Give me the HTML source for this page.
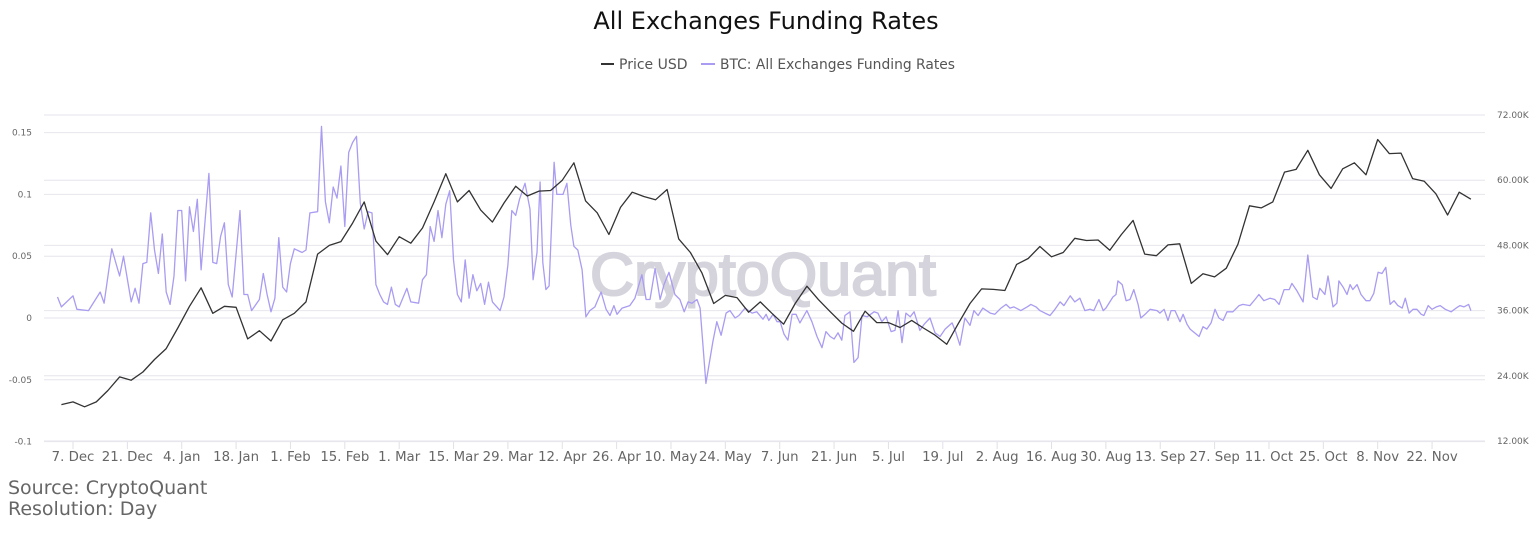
<!DOCTYPE html>
<html><head><meta charset="utf-8"><style>
html,body{margin:0;padding:0;background:#fff;}
svg{display:block;font-family:"DejaVu Sans","Liberation Sans",sans-serif;}
</style></head><body>
<svg id="chart" width="1536" height="533" viewBox="0 0 1536 533" xmlns="http://www.w3.org/2000/svg">
<text x="766" y="29" text-anchor="middle" font-size="24" fill="#111">All Exchanges Funding Rates</text>
<g>
<g><line x1="601" y1="64" x2="614" y2="64" stroke="#333" stroke-width="2"/><text x="619" y="69" font-size="14" fill="#555">Price USD</text></g>
<g><line x1="701" y1="64" x2="715" y2="64" stroke="#a99cf2" stroke-width="2"/><text x="720" y="69" font-size="14" fill="#555" textLength="235" lengthAdjust="spacingAndGlyphs">BTC: All Exchanges Funding Rates</text></g>
</g>
<g id="grid"></g>
<text x="590" y="295" font-family="Liberation Sans, sans-serif" font-size="60" fill="#d5d4dd" stroke="#d5d4dd" stroke-width="2" textLength="346" lengthAdjust="spacingAndGlyphs">CryptoQuant</text>
<g id="axes"></g>
<g id="series"></g>
<text x="8" y="494" font-size="19" fill="#666">Source: CryptoQuant</text>
<text x="8" y="515" font-size="19" fill="#666">Resolution: Day</text>
</svg>
<script>
// day offsets are days since 2020-12-07
const leftTicks = [0.15, 0.1, 0.05, 0, -0.05, -0.1];
const leftTickLabels = ["0.15", "0.1", "0.05", "0", "-0.05", "-0.1"];
const rightTicks = [72, 60, 48, 36, 24, 12];
const rightTickLabels = ["72.00K", "60.00K", "48.00K", "36.00K", "24.00K", "12.00K"];
const xTickDays = [0,14,28,42,56,70,84,98,112,126,140,154,168,182,196,210,224,238,252,266,280,294,308,322,336,350];
const xTickLabels = ["7. Dec","21. Dec","4. Jan","18. Jan","1. Feb","15. Feb","1. Mar","15. Mar","29. Mar","12. Apr","26. Apr","10. May","24. May","7. Jun","21. Jun","5. Jul","19. Jul","2. Aug","16. Aug","30. Aug","13. Sep","27. Sep","11. Oct","25. Oct","8. Nov","22. Nov"];
// price (K USD), one value every 3 days starting 2020-12-04 (day -3)
const priceStartDay = -3;
const priceStepDays = 3;
const priceValues = [18.7,19.2,18.3,19.2,21.3,23.8,23.2,24.7,27.0,29.0,32.8,36.8,40.2,35.5,36.8,36.6,30.8,32.3,30.4,34.3,35.5,37.6,46.4,48.0,48.7,52.1,56.0,48.8,46.3,49.6,48.4,51.2,56.0,61.2,56.0,58.1,54.5,52.3,55.8,58.9,57.1,58.0,58.1,60.0,63.2,56.2,54.0,50.0,55.0,57.8,57.0,56.4,58.3,49.2,46.7,42.9,37.3,38.8,38.4,35.7,37.6,35.5,33.5,37.3,40.5,38.0,35.8,33.7,32.2,35.9,33.8,33.8,32.9,34.2,32.8,31.5,29.8,33.6,37.3,40.0,39.9,39.7,44.5,45.6,47.8,45.9,46.7,49.3,48.9,49.0,47.1,50.0,52.6,46.4,46.1,48.1,48.3,41.0,42.8,42.2,43.8,48.2,55.3,54.9,56.0,61.5,62.0,65.5,61.0,58.5,62.1,63.2,61.0,67.5,64.9,65.0,60.3,59.8,57.5,53.6,57.8,56.5];
const fundingDays = [-4,-3,0,1,4,7,8,10,12,13,15,16,17,18,19,20,21,22,23,24,25,26,27,28,29,30,31,32,33,35,36,37,38,39,40,41,43,44,45,46,48,49,50,51,52,53,54,55,56,57,59,60,61,63,64,65,66,67,68,69,70,71,72,73,74,75,76,77,78,79,80,81,82,83,84,86,87,89,90,91,92,93,94,95,96,97,98,99,100,101,102,103,104,105,106,107,108,110,111,112,113,114,115,116.4,117.7,118.5,119.5,120.3,121.0,121.8,122.6,123.9,124.6,126.2,127.2,128.2,129.0,130.0,131.1,132.1,133.1,134.4,136.0,137.3,138.3,139.3,140.1,141.4,143.4,144.7,146.5,147.6,148.6,149.9,151.2,152.2,153.5,155.0,156.3,157.4,158.4,159.4,160.7,161.5,163.0,164.8,165.8,166.9,168.2,169.2,170.5,171.5,173.1,174.9,176.1,177.7,178.5,179.2,180.3,181.3,182.1,183.1,184.1,185.2,186.2,187.2,189.0,190.3,191.6,192.9,193.9,195.0,196.0,197.0,198.0,198.8,200.1,201.1,202.2,203.2,204.5,206.3,207.3,208.3,209.4,210.7,211.7,212.5,213.5,214.5,215.6,216.6,218.1,219.2,220.7,222.0,223.3,224.6,226.4,227.4,228.4,229.7,231.0,232.0,233.1,234.3,236.2,237.4,239.0,240.3,241.3,242.3,244.1,245.7,246.7,248.0,249.0,250.3,251.6,252.9,254.2,255.2,256.8,258.0,259.3,260.6,261.9,262.9,264.2,265.3,266.0,267.8,268.6,269.1,270.2,271.2,272.2,273.2,274.3,275.0,276.1,277.4,279.2,279.9,281.0,282.0,282.8,283.8,285.1,285.9,286.9,287.7,290.0,291.0,292.0,293.1,294.1,295.1,296.2,297.2,298.7,300.3,301.3,303.1,304.4,305.4,306.7,308.3,309.5,310.6,311.9,313.2,313.9,315.2,316.8,318.0,319.3,320.4,321.1,322.4,323.2,324.5,325.5,326.0,327.1,328.1,328.9,329.6,330.7,331.7,333.0,334.0,335.0,336.1,337.1,338.1,339.2,340.2,341.2,342.3,343.1,344.1,345.1,346.1,347.2,347.9,349.0,350.0,351.1,352.1,353.4,354.9,356.2,357.2,358.2,359.4,360.0];
const fundingValues = [0.017,0.009,0.018,0.007,0.006,0.021,0.012,0.056,0.034,0.050,0.013,0.024,0.012,0.044,0.045,0.085,0.055,0.036,0.068,0.021,0.011,0.034,0.087,0.087,0.030,0.090,0.070,0.096,0.039,0.117,0.045,0.044,0.066,0.077,0.027,0.017,0.087,0.019,0.019,0.006,0.015,0.036,0.019,0.005,0.016,0.065,0.025,0.021,0.044,0.056,0.053,0.055,0.085,0.086,0.155,0.094,0.077,0.106,0.097,0.123,0.074,0.134,0.142,0.147,0.093,0.072,0.086,0.085,0.027,0.019,0.013,0.011,0.025,0.011,0.009,0.024,0.013,0.012,0.031,0.035,0.074,0.062,0.087,0.065,0.092,0.103,0.047,0.019,0.013,0.047,0.016,0.035,0.022,0.028,0.011,0.029,0.013,0.006,0.017,0.043,0.087,0.083,0.096,0.109,0.088,0.031,0.053,0.110,0.045,0.023,0.026,0.126,0.100,0.100,0.109,0.075,0.058,0.055,0.039,0.001,0.006,0.009,0.021,0.007,0.002,0.010,0.003,0.008,0.010,0.016,0.035,0.015,0.015,0.040,0.015,0.027,0.037,0.019,0.015,0.005,0.013,0.012,0.015,0.008,-0.053,-0.019,-0.003,-0.014,0.004,0.006,0,0.002,0.008,0.004,0.005,-0.001,0.003,-0.002,0.003,-0.003,-0.003,-0.013,-0.018,0.003,0.003,-0.004,0.006,-0.003,-0.015,-0.024,-0.011,-0.015,-0.017,-0.012,-0.018,0.002,0.005,-0.036,-0.032,0.002,0.001,0.005,0.004,-0.003,0.001,-0.011,-0.010,0.006,-0.020,0.004,0.001,0.005,-0.010,-0.005,0,-0.012,-0.015,-0.009,-0.004,-0.012,-0.022,0,-0.006,0.006,0.002,0.008,0.004,0.003,0.008,0.011,0.008,0.009,0.006,0.009,0.011,0.009,0.006,0.004,0.002,0.007,0.013,0.010,0.018,0.013,0.016,0.006,0.007,0.006,0.015,0.006,0.008,0.017,0.019,0.030,0.027,0.014,0.015,0.023,0.011,0,0.003,0.007,0.006,0.004,0.007,-0.002,0.006,0.006,-0.003,0.003,-0.005,-0.009,-0.015,-0.007,-0.009,-0.004,0.007,0,-0.002,0.005,0.005,0.010,0.011,0.010,0.015,0.019,0.014,0.016,0.015,0.011,0.023,0.023,0.028,0.022,0.013,0.051,0.017,0.015,0.024,0.019,0.034,0.009,0.012,0.030,0.025,0.019,0.027,0.023,0.027,0.019,0.014,0.014,0.020,0.037,0.036,0.041,0.011,0.014,0.010,0.008,0.016,0.004,0.007,0.007,0.003,0.002,0.010,0.007,0.009,0.010,0.007,0.005,0.008,0.010,0.009,0.011,0.006];

const NS = "http://www.w3.org/2000/svg";
const plotL = 44, plotR = 1485;
const xOf = d => 73 + d * 3.883;
const yLeft = v => 318 - v * 1236;
const yRight = k => 441 - (k - 12) * 5.433;
function mk(tag, attrs, parent) {
  const el = document.createElementNS(NS, tag);
  for (const k in attrs) el.setAttribute(k, attrs[k]);
  parent.appendChild(el);
  return el;
}
const grid = document.getElementById('grid');
const axes = document.getElementById('axes');
const series = document.getElementById('series');
rightTicks.forEach((t, i) => {
  const y = yRight(t);
  const ln = mk('line', {x1: plotL, x2: plotR, y1: y, y2: y, stroke: '#e6e6ec', 'stroke-width': 1}, grid);
  
  
  const tx = mk('text', {x: 1497, y: y + 3, 'font-size': 9, fill: '#666'}, axes);
  tx.textContent = rightTickLabels[i];
  
  
});
leftTicks.forEach((t, i) => {
  const y = yLeft(t);
  const ln = mk('line', {x1: plotL, x2: plotR, y1: y, y2: y, stroke: '#e6e6ec', 'stroke-width': 1}, grid);
  
  
  const tx = mk('text', {x: 32, y: y + 3, 'font-size': 9, fill: '#666', 'text-anchor': 'end'}, axes);
  tx.textContent = leftTickLabels[i];
  
  
});
xTickDays.forEach((d, i) => {
  const x = xOf(d);
  const tk = mk('line', {x1: x, x2: x, y1: 442, y2: 449, stroke: '#e0e0e6', 'stroke-width': 1}, axes);
  
  
  const tx = mk('text', {x: x, y: 461, 'font-size': 13.3, fill: '#666', 'text-anchor': 'middle'}, axes);
  tx.textContent = xTickLabels[i];
  
  
});
const fp = fundingDays.map((d, i) => xOf(d).toFixed(1) + ',' + yLeft(fundingValues[i]).toFixed(1)).join(' ');
const fl = mk('polyline', {points: fp, fill: 'none', stroke: '#a99cf2', 'stroke-width': 1.3, 'stroke-linejoin': 'round'}, series);


const pp = priceValues.map((v, i) => xOf(priceStartDay + i * priceStepDays).toFixed(1) + ',' + yRight(v).toFixed(1)).join(' ');
const pl = mk('polyline', {points: pp, fill: 'none', stroke: '#333', 'stroke-width': 1.3, 'stroke-linejoin': 'round'}, series);


</script>
</body></html>
